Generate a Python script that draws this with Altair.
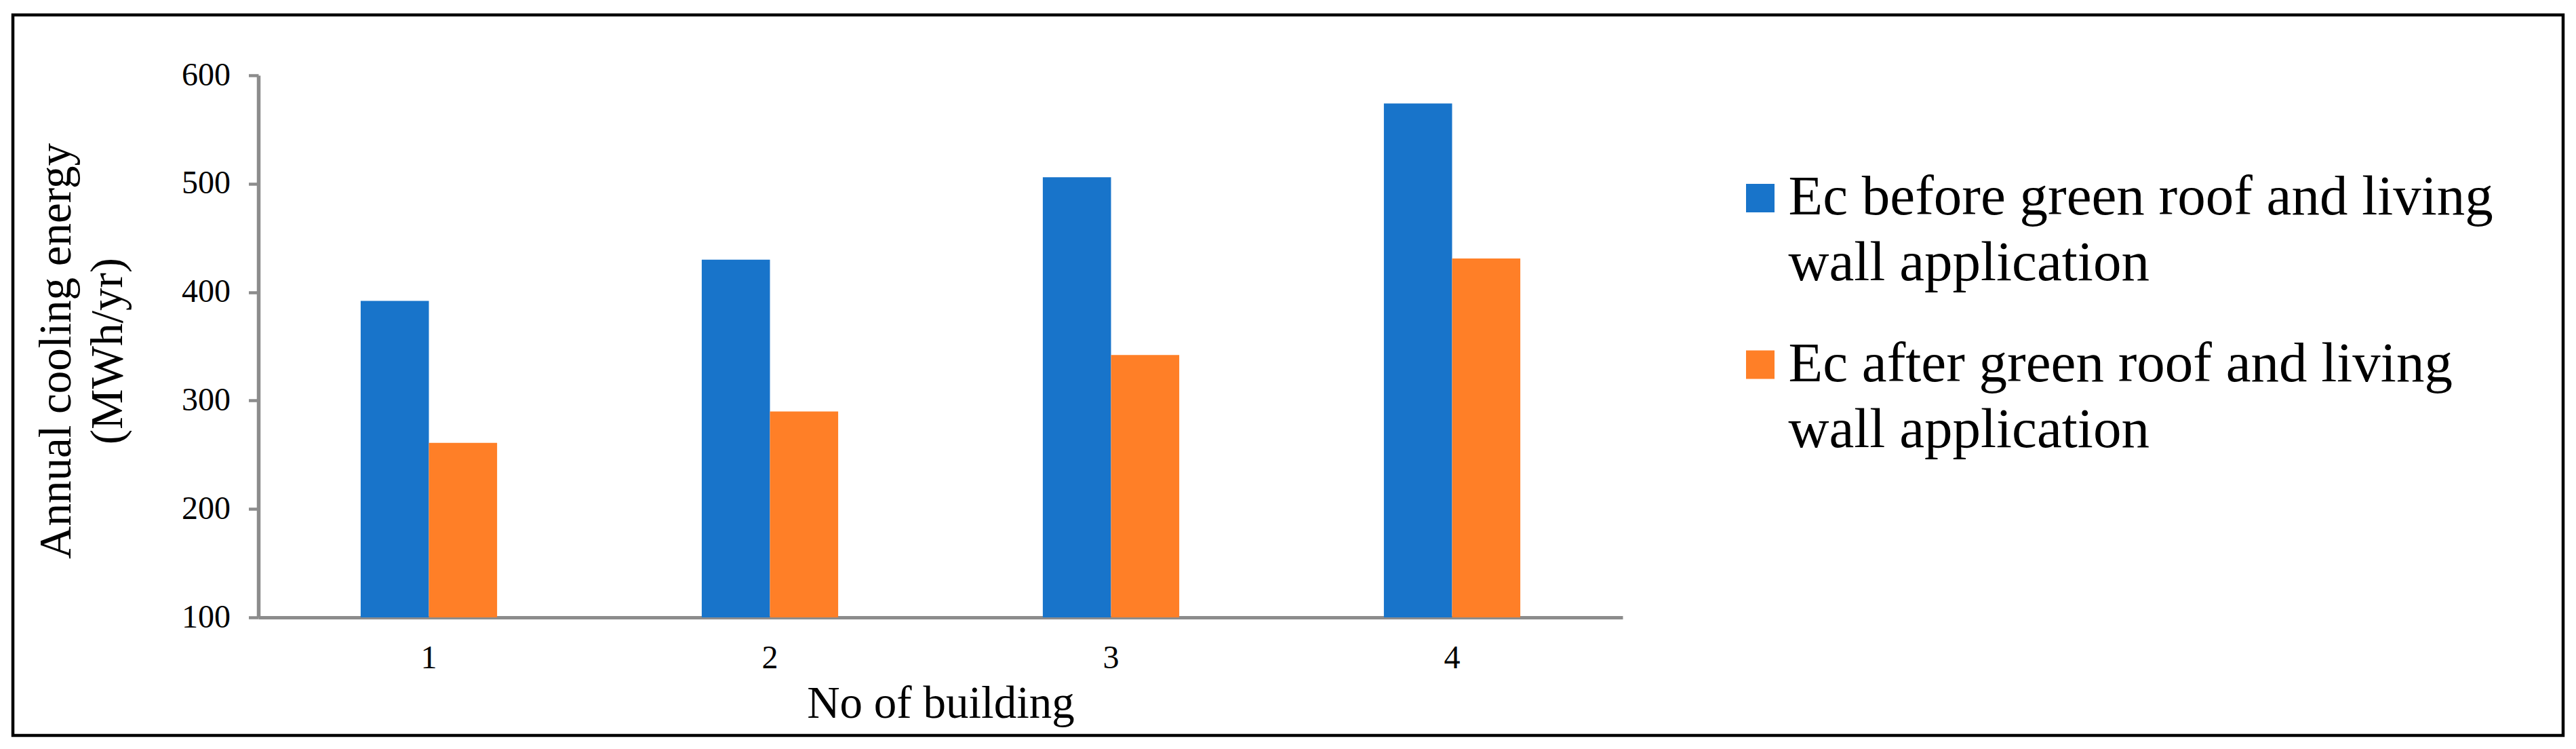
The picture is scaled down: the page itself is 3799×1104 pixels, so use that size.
import altair as alt
import pandas as pd

# ---- data ----
buildings = ["1", "2", "3", "4"]
series_names = [
    "Ec before green roof and living wall application",
    "Ec after green roof and living wall application",
]
ec_before = [392, 430, 506, 574]
ec_after = [261, 290, 342, 431]
y_ticks = [100, 200, 300, 400, 500, 600]
bar_colors = ["#1874CA", "#FF7F27"]

rows = []
for b, v in zip(buildings, ec_before):
    rows.append({"building": b, "series": series_names[0], "value": v})
for b, v in zip(buildings, ec_after):
    rows.append({"building": b, "series": series_names[1], "value": v})
df = pd.DataFrame(rows)

FONT = "Liberation Serif"
AXIS_GRAY = "#8C8C8C"

label_expr = (
    "[slice(datum.label, 0, indexof(datum.label, ' wall')), "
    "slice(datum.label, indexof(datum.label, ' wall') + 1)]"
)

bars = alt.Chart(df).mark_bar().encode(
    x=alt.X(
        "building:N",
        sort=buildings,
        scale=alt.Scale(paddingInner=0.6, paddingOuter=0.3),
        axis=alt.Axis(
            title="No of building",
            titleFont=FONT,
            titleFontSize=67,
            titleFontWeight="normal",
            titleColor="black",
            titleY=147,
            titleBaseline="alphabetic",
            labelAngle=0,
            labelFont=FONT,
            labelFontSize=48,
            labelColor="black",
            labelBaseline="alphabetic",
            labelPadding=74,
            ticks=False,
            tickSize=0,
            domainColor=AXIS_GRAY,
            domainWidth=5,
            grid=False,
        ),
    ),
    xOffset=alt.XOffset("series:N", sort=series_names, scale=alt.Scale(paddingInner=0, paddingOuter=0)),
    y=alt.Y(
        "value:Q",
        stack=False,
        scale=alt.Scale(domain=[100, 600], nice=False, zero=False),
        axis=alt.Axis(
            values=y_ticks,
            title=["Annual cooling energy", "(MWh/yr)"],
            titleFont=FONT,
            titleFontSize=67,
            titleFontWeight="normal",
            titleColor="black",
            titleAngle=270,
            titleX=-278,
            titleY=406,
            titleAlign="center",
            titleBaseline="alphabetic",
            titleLineHeight=76,
            labelFont=FONT,
            labelFontSize=48,
            labelColor="black",
            labelPadding=27,
            tickSize=14.5,
            tickWidth=4.5,
            tickColor=AXIS_GRAY,
            domainColor=AXIS_GRAY,
            domainWidth=5.5,
            grid=False,
        ),
    ),
    y2=alt.datum(100),
    color=alt.Color(
        "series:N",
        sort=series_names,
        scale=alt.Scale(domain=series_names, range=bar_colors),
        legend=alt.Legend(
            title=None,
            orient="none",
            legendX=2172,
            legendY=97.5,
            labelExpr=label_expr,
            labelFont=FONT,
            labelFontSize=83,
            labelLimit=3000,
            labelColor="black",
            labelBaseline="top",
            labelOffset=0,
            symbolOffset=1.5,
            symbolType="M-1,1L1,1L1,3L-1,3Z",
            symbolSize=1764,
            symbolStrokeWidth=0,
            rowPadding=23.5,
        ),
    ),
)

frame = alt.Chart(pd.DataFrame({"k": [0]})).mark_rect(
    filled=False, stroke="black", strokeWidth=4.5
).encode(
    x=alt.value(-362),
    x2=alt.value(3399),
    y=alt.value(-89),
    y2=alt.value(973),
)

chart = (
    alt.layer(bars, frame)
    .properties(
        width=2012,
        height=799,
        autosize=alt.AutoSizeParams(type="none"),
        padding={"left": 373, "top": 103, "right": 1398, "bottom": 180},
        background="white",
    )
    .configure(font=FONT, style={"guide-label": {"lineHeight": 97}})
    .configure_view(stroke="transparent")
)

chart.save("out.html", embed_options={"renderer": "svg", "actions": False})
